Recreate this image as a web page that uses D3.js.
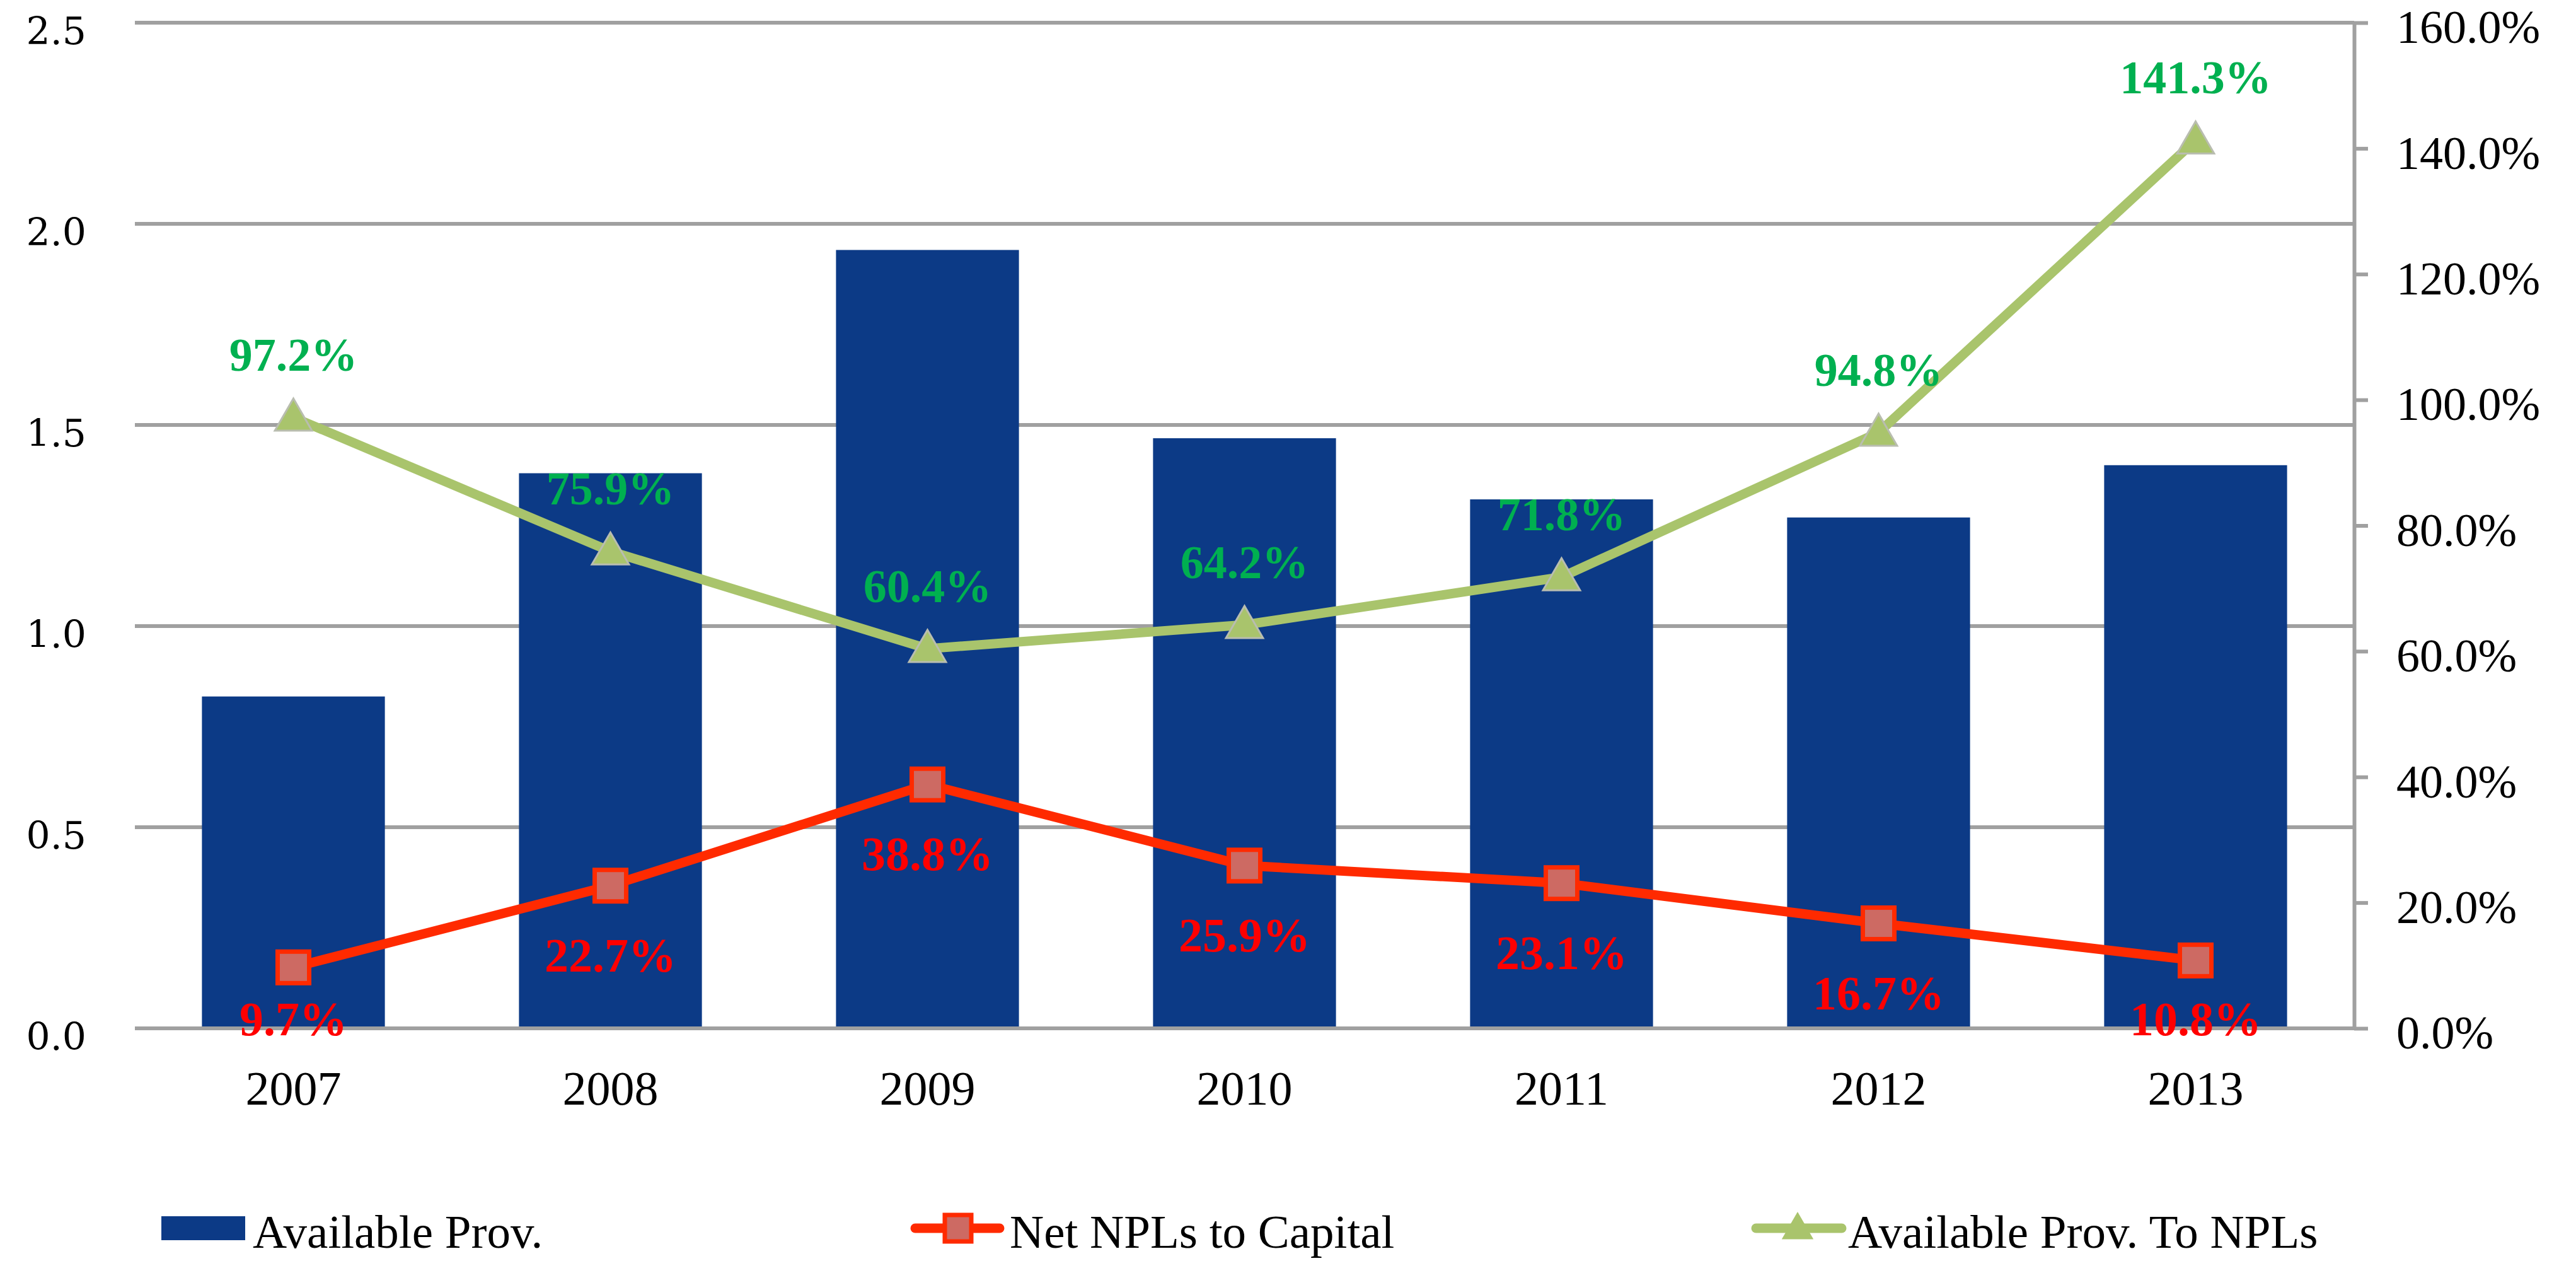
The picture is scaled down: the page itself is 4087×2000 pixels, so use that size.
<html lang="en">
<head>
    <meta charset="UTF-8"/>
    <title>Available Provisions and NPLs</title>
    <script src="https://d3js.org/d3.v7.min.js"></script>
    <style>
        body { margin: 0; background: #fff; }
        text { font-family: "Liberation Serif", serif; }
    </style>
</head>
<body>
    <script>
        // data
        var years = ["2007", "2008", "2009", "2010", "2011", "2012", "2013"];
        var availableProv = [0.825, 1.38, 1.935, 1.467, 1.315, 1.27, 1.40];
        var netNplsToCapital = [9.7, 22.7, 38.8, 25.9, 23.1, 16.7, 10.8];
        var provToNpls = [97.2, 75.9, 60.4, 64.2, 71.8, 94.8, 141.3];
        var leftTicks = [0, 0.5, 1.0, 1.5, 2.0, 2.5];
        var rightTicks = [0, 20, 40, 60, 80, 100, 120, 140, 160];
        var legendNames = ["Available Prov.", "Net NPLs to Capital", "Available Prov. To NPLs"];

        var w = 4087;
        var h = 2000;
        var plotLeft = 214, plotRight = 3735, plotTop = 36, plotBottom = 1631;

        var barColor = "#0c3a86";
        var redLine = "#ff2a00";
        var greenLine = "#a9c46c";
        var grey = "#a0a0a0";

        var svg = d3.select("body")
                    .append("svg")
                    .attr("width", w)
                    .attr("height", h);

        svg.append("rect")
            .attr("width", w)
            .attr("height", h)
            .attr("fill", "#fff");

        var xScale = d3.scaleBand()
                        .domain(years)
                        .range([plotLeft, plotRight])
                        .paddingInner(0.423)
                        .paddingOuter(0.2115);

        var yLeft = d3.scaleLinear()
                        .domain([0, 2.5])
                        .range([plotBottom, plotTop]);

        var yRight = d3.scaleLinear()
                        .domain([0, 160])
                        .range([plotBottom, plotTop]);

        function cx(d, i) {
            return xScale(years[i]) + xScale.bandwidth() / 2;
        }

        // gridlines
        svg.append("g")
            .selectAll("line")
            .data(leftTicks)
            .enter()
            .append("line")
            .attr("x1", plotLeft)
            .attr("x2", plotRight)
            .attr("y1", function(d) { return yLeft(d); })
            .attr("y2", function(d) { return yLeft(d); })
            .attr("stroke", grey)
            .attr("stroke-width", 6);

        // bars
        svg.append("g")
            .selectAll("rect")
            .data(availableProv)
            .enter()
            .append("rect")
            .attr("x", function(d, i) { return xScale(years[i]); })
            .attr("y", function(d) { return yLeft(d); })
            .attr("width", xScale.bandwidth())
            .attr("height", function(d) { return plotBottom - yLeft(d); })
            .attr("fill", barColor);

        // baseline drawn again over the bars
        svg.append("line")
            .attr("x1", plotLeft)
            .attr("x2", plotRight)
            .attr("y1", yLeft(0))
            .attr("y2", yLeft(0))
            .attr("stroke", grey)
            .attr("stroke-width", 6);

        // left axis
        var leftAxis = svg.append("g")
            .attr("transform", "translate(" + plotLeft + ",0)")
            .call(d3.axisLeft(yLeft).tickValues(leftTicks).tickSize(0).tickPadding(77)
                .tickFormat(function(d) { return d.toFixed(1); }));
        leftAxis.select(".domain").remove();
        leftAxis.selectAll("text")
            .attr("dy", "0.56em")
            .style("font-family", "'DejaVu Serif', serif")
            .style("font-size", "60px")
            .attr("fill", "#000");

        // right axis
        var rightAxis = svg.append("g")
            .attr("transform", "translate(" + plotRight + ",0)")
            .call(d3.axisRight(yRight).tickValues(rightTicks).tickSize(22).tickSizeOuter(0).tickPadding(45)
                .tickFormat(function(d) { return d.toFixed(1) + "%"; }));
        rightAxis.select(".domain")
            .attr("stroke", grey)
            .attr("stroke-width", 6);
        rightAxis.selectAll("line")
            .attr("stroke", grey)
            .attr("stroke-width", 6);
        rightAxis.selectAll("text")
            .attr("dy", "0.43em")
            .style("font-family", "'Liberation Serif', serif")
            .style("font-size", "74px")
            .attr("fill", "#000");

        // x axis
        var xAxis = svg.append("g")
            .attr("transform", "translate(0," + plotBottom + ")")
            .call(d3.axisBottom(xScale).tickSize(0).tickPadding(67));
        xAxis.select(".domain").remove();
        xAxis.selectAll("text")
            .style("font-family", "'Liberation Serif', serif")
            .style("font-size", "76px")
            .attr("fill", "#000");

        // lines
        var linePath = d3.line()
            .x(cx)
            .y(function(d) { return yRight(d); });

        svg.append("path")
            .datum(netNplsToCapital)
            .attr("d", linePath)
            .attr("fill", "none")
            .attr("stroke", redLine)
            .attr("stroke-width", 15)
            .attr("stroke-linejoin", "round");

        svg.append("path")
            .datum(provToNpls)
            .attr("d", linePath)
            .attr("fill", "none")
            .attr("stroke", greenLine)
            .attr("stroke-width", 15)
            .attr("stroke-linejoin", "round");

        // square markers
        var sq = 50;
        svg.append("g")
            .selectAll("rect")
            .data(netNplsToCapital)
            .enter()
            .append("rect")
            .attr("x", function(d, i) { return cx(d, i) - sq / 2; })
            .attr("y", function(d) { return yRight(d) - sq / 2; })
            .attr("width", sq)
            .attr("height", sq)
            .attr("fill", "#cd6a63")
            .attr("stroke", redLine)
            .attr("stroke-width", 7);

        // triangle markers
        var tri = d3.symbol().type(d3.symbolTriangle).size(1500);
        svg.append("g")
            .selectAll("path")
            .data(provToNpls)
            .enter()
            .append("path")
            .attr("d", tri)
            .attr("transform", function(d, i) {
                return "translate(" + cx(d, i) + "," + (yRight(d) + 4) + ")";
            })
            .attr("fill", greenLine)
            .attr("stroke", "#b9bdb0")
            .attr("stroke-width", 3);

        // data labels
        svg.append("g")
            .selectAll("text")
            .data(provToNpls)
            .enter()
            .append("text")
            .text(function(d) { return d.toFixed(1) + "%"; })
            .attr("x", cx)
            .attr("y", function(d) { return yRight(d) - 74; })
            .attr("text-anchor", "middle")
            .attr("fill", "#00b050")
            .attr("font-weight", "bold")
            .style("font-size", "74px");

        svg.append("g")
            .selectAll("text")
            .data(netNplsToCapital)
            .enter()
            .append("text")
            .text(function(d) { return d.toFixed(1) + "%"; })
            .attr("x", cx)
            .attr("y", function(d) { return Math.min(yRight(d) + 136, 1642); })
            .attr("text-anchor", "middle")
            .attr("fill", "#ff0000")
            .attr("font-weight", "bold")
            .style("font-size", "76px");

        // legend
        var legend = svg.append("g");
        var legendY = 1948;

        legend.append("rect")
            .attr("x", 256)
            .attr("y", legendY - 19)
            .attr("width", 133)
            .attr("height", 38)
            .attr("fill", barColor);

        legend.append("line")
            .attr("x1", 1452).attr("x2", 1586)
            .attr("y1", legendY).attr("y2", legendY)
            .attr("stroke", redLine)
            .attr("stroke-width", 15)
            .attr("stroke-linecap", "round");
        legend.append("rect")
            .attr("x", 1520 - 21)
            .attr("y", legendY - 21)
            .attr("width", 42)
            .attr("height", 42)
            .attr("fill", "#cd6a63")
            .attr("stroke", redLine)
            .attr("stroke-width", 7);

        legend.append("line")
            .attr("x1", 2786).attr("x2", 2922)
            .attr("y1", legendY).attr("y2", legendY)
            .attr("stroke", greenLine)
            .attr("stroke-width", 15)
            .attr("stroke-linecap", "round");
        legend.append("path")
            .attr("d", d3.symbol().type(d3.symbolTriangle).size(1100))
            .attr("transform", "translate(2852," + (legendY + 3) + ")")
            .attr("fill", greenLine);

        var legendTextX = [401, 1602, 2932];
        legend.selectAll("text")
            .data(legendNames)
            .enter()
            .append("text")
            .text(function(d) { return d; })
            .attr("x", function(d, i) { return legendTextX[i]; })
            .attr("y", legendY + 31)
            .attr("fill", "#000")
            .style("font-size", "75px");
    </script>
</body>
</html>
